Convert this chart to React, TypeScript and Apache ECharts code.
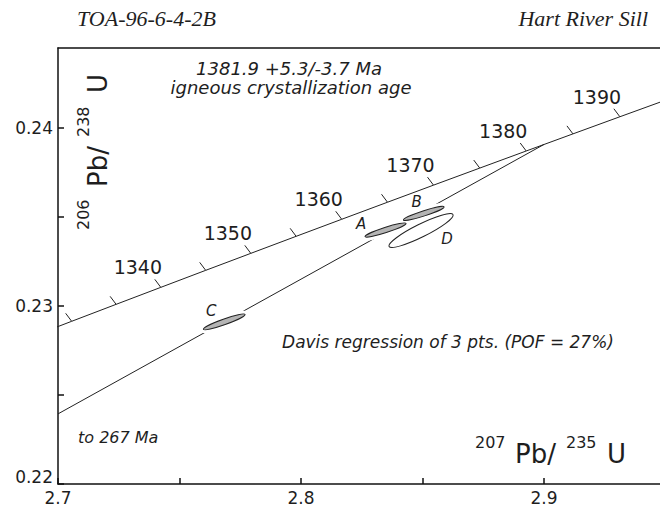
import React, { useEffect, useRef } from 'react';
import * as echarts from 'echarts';

// Axis ticks and labels
const xTickValues = [2.7, 2.75, 2.8, 2.85, 2.9];
const xLabelValues = [2.7, 2.8, 2.9];
const yTickValues = [0.22, 0.225, 0.23, 0.235, 0.24];
const yLabelValues = [0.22, 0.23, 0.24];

// Concordia curve points (age in Ma, 207Pb/235U, 206Pb/238U)
const concordiaAges = [1325, 1330, 1335, 1340, 1345, 1350, 1355, 1360, 1365, 1370, 1375, 1380, 1385, 1390, 1395, 1400];
const concordiaX = [2.68742, 2.70562, 2.72391, 2.7423, 2.76077, 2.77933, 2.79799, 2.81674, 2.83558, 2.85451, 2.87354, 2.89266, 2.91188, 2.93119, 2.95059, 2.97009];
const concordiaY = [0.228189, 0.229142, 0.230096, 0.23105, 0.232006, 0.232961, 0.233918, 0.234876, 0.235834, 0.236793, 0.237752, 0.238713, 0.239674, 0.240636, 0.241599, 0.242562];
const tickAges = [1330, 1335, 1340, 1345, 1350, 1355, 1360, 1365, 1370, 1375, 1380, 1385, 1390];
const labelAges = [1340, 1350, 1360, 1370, 1380, 1390];

// Discordia (from left edge up to the upper intercept at 1381.9 Ma)
const discordiaX = [2.7, 2.89996];
const discordiaY = [0.22394, 0.23908];

// Error ellipses: centre, major half-axis vector (data units), minor/major ratio
const ellipseNames = ['D', 'A', 'B', 'C'];
const ellipseX = [2.84938, 2.83477, 2.85049, 2.7684];
const ellipseY = [0.234242, 0.23427, 0.235204, 0.22911];
const ellipseHalfX = [0.01317, 0.00844, 0.00837, 0.00858];
const ellipseHalfY = [0.000895, 0.000375, 0.000372, 0.00042];
const ellipseRatio = [0.18, 0.12, 0.12, 0.13];
const ellipseFilled = [0, 1, 1, 1];

// label offsets (pixels) for ellipse letters
const letterOffset: Record<string, [number, number]> = {
  D: [26, 8.5],
  A: [-24.5, -6],
  B: [-7, -11],
  C: [-13, -11],
};

const SANS = 'DejaVu Sans';
const INK = '#1e1e1e';

const near = (list: number[], v: number) => list.some((t) => Math.abs(t - v) < 1e-6);

function buildOption(): any {
  const concordiaData = concordiaX.map((x, i) => [x, concordiaY[i]]);
  const tickData = tickAges.map((age) => {
    const i = concordiaAges.indexOf(age);
    return [concordiaX[i], concordiaY[i], age];
  });
  const discordiaData = discordiaX.map((x, i) => [x, discordiaY[i]]);
  const ellipseData = ellipseX.map((x, i) => [x, ellipseY[i], ellipseHalfX[i], ellipseHalfY[i], ellipseRatio[i], ellipseFilled[i]]);

  const ellipseGeom = (api: any) => {
    const cx = api.value(0);
    const cy = api.value(1);
    const c = api.coord([cx, cy]);
    const e = api.coord([cx + api.value(2), cy + api.value(3)]);
    const dx = e[0] - c[0];
    const dy = e[1] - c[1];
    const a = Math.hypot(dx, dy);
    return { c, a, b: a * api.value(4), rot: Math.atan2(-dy, dx) };
  };

  const textStyle = (text: string, size: number, italic: boolean, align: string, family = SANS) => ({
    text,
    fill: INK,
    fontSize: size,
    fontFamily: family,
    fontStyle: italic ? 'italic' : 'normal',
    lineHeight: size,
    align,
    textAlign: align,
    verticalAlign: 'middle',
    textVerticalAlign: 'middle',
  });

  return {
    animation: false,
    backgroundColor: '#fff',
    grid: { left: 58, top: 48, right: 0, bottom: 26, containLabel: false, outerBoundsMode: 'none' },
    xAxis: [
      {
        type: 'value',
        min: 2.7,
        max: 2.9477,
        interval: 0.05,
        position: 'bottom',
        axisLine: { show: true, lineStyle: { color: '#111', width: 1.5 } },
        axisTick: { show: true, inside: true, length: 6, customValues: xTickValues, lineStyle: { color: '#111', width: 1.5 } },
        axisLabel: {
          customValues: xLabelValues,
          margin: 7,
          fontSize: 17,
          lineHeight: 14,
          fontFamily: SANS,
          color: INK,
          formatter: (v: number) => (near(xLabelValues, v) ? String(Math.round(v * 10) / 10) : ''),
        },
        splitLine: { show: false },
      },
      {
        type: 'value',
        min: 2.7,
        max: 2.9477,
        position: 'top',
        axisLine: { show: true, lineStyle: { color: '#111', width: 1.5 } },
        axisTick: { show: false },
        axisLabel: { show: false },
        splitLine: { show: false },
      },
    ],
    yAxis: {
      type: 'value',
      min: 0.22,
      max: 0.2445,
      interval: 0.005,
      axisLine: { show: true, lineStyle: { color: '#111', width: 1.5 } },
      axisTick: { show: true, inside: true, length: 6, customValues: yTickValues, lineStyle: { color: '#111', width: 1.5 } },
      axisLabel: {
        customValues: yLabelValues,
        margin: 5,
        fontSize: 17,
        lineHeight: 14,
        fontFamily: SANS,
        color: INK,
        formatter: (v: number) => {
          if (!near(yLabelValues, v)) return '';
          const s = v.toFixed(2);
          return Math.abs(v - 0.22) < 1e-6 ? '{low|' + s + '}' : s;
        },
        rich: {
          low: { fontSize: 17, lineHeight: 14, fontFamily: SANS, color: INK, padding: [0, 0, 14, 0] },
        },
      },
      splitLine: { show: false },
    },
    series: [
      {
        name: 'Concordia',
        type: 'line',
        z: 2,
        data: concordiaData,
        symbol: 'none',
        clip: true,
        silent: true,
        lineStyle: { color: '#222', width: 1 },
      },
      {
        name: 'Concordia ages',
        type: 'custom',
        coordinateSystem: 'cartesian2d',
        z: 2,
        clip: false,
        silent: true,
        data: tickData,
        renderItem: (params: any, api: any) => {
          const p = api.coord([api.value(0), api.value(1)]);
          const age = api.value(2);
          const children: any[] = [
            { type: 'line', shape: { x1: p[0], y1: p[1], x2: p[0] - 6, y2: p[1] - 8 }, style: { stroke: '#222', lineWidth: 1 } },
          ];
          if (labelAges.includes(age)) {
            children.push({ type: 'text', x: p[0] - 23, y: p[1] - 20, style: textStyle(String(age), 19, false, 'center') });
          }
          return { type: 'group', children };
        },
      },
      {
        name: 'Discordia',
        type: 'line',
        z: 2,
        data: discordiaData,
        symbol: 'none',
        silent: true,
        lineStyle: { color: '#222', width: 1 },
      },
      {
        name: 'Ellipse halo',
        type: 'custom',
        coordinateSystem: 'cartesian2d',
        z: 5,
        clip: false,
        silent: true,
        data: ellipseData,
        renderItem: (params: any, api: any) => {
          const g = ellipseGeom(api);
          return {
            type: 'ellipse',
            x: g.c[0],
            y: g.c[1],
            rotation: g.rot,
            shape: { cx: 0, cy: 0, rx: g.a, ry: g.b },
            style: { fill: '#fff', stroke: '#fff', lineWidth: 7 },
          };
        },
      },
      {
        name: 'Analyses',
        type: 'custom',
        coordinateSystem: 'cartesian2d',
        z: 6,
        clip: false,
        silent: true,
        data: ellipseData,
        renderItem: (params: any, api: any) => {
          const g = ellipseGeom(api);
          const name = ellipseNames[params.dataIndex];
          const off = letterOffset[name];
          return {
            type: 'group',
            children: [
              {
                type: 'ellipse',
                x: g.c[0],
                y: g.c[1],
                rotation: g.rot,
                shape: { cx: 0, cy: 0, rx: g.a, ry: g.b },
                style: { fill: api.value(5) ? '#b4b4b4' : '#fff', stroke: '#222', lineWidth: 1 },
              },
              { type: 'text', x: g.c[0] + off[0], y: g.c[1] + off[1], style: textStyle(name, 15, true, 'center') },
            ],
          };
        },
      },
    ],
    graphic: [
      { type: 'text', x: 77, y: 18, style: textStyle('TOA-96-6-4-2B', 22, true, 'left', 'Liberation Serif') },
      { type: 'text', x: 648, y: 18, style: textStyle('Hart River Sill', 22, true, 'right', 'Liberation Serif') },
      { type: 'text', x: 289, y: 68, style: textStyle('1381.9 +5.3/-3.7 Ma', 18, true, 'center') },
      { type: 'text', x: 291, y: 87, style: textStyle('igneous crystallization age', 18, true, 'center') },
      { type: 'text', x: 448, y: 342, style: textStyle('Davis regression of 3 pts. (POF = 27%)', 17, true, 'center') },
      { type: 'text', x: 78, y: 437, style: textStyle('to 267 Ma', 16, true, 'left') },
      // x-axis title
      { type: 'text', x: 475, y: 442, style: textStyle('207', 16, false, 'left') },
      { type: 'text', x: 515, y: 454, style: textStyle('Pb/', 26, false, 'left') },
      { type: 'text', x: 566, y: 442, style: textStyle('235', 16, false, 'left') },
      { type: 'text', x: 607, y: 454, style: textStyle('U', 26, false, 'left') },
      // y-axis title (rotated)
      {
        type: 'group',
        x: 97.5,
        y: 230,
        rotation: Math.PI / 2,
        children: [
          { type: 'text', x: 0, y: -14, style: textStyle('206', 16, false, 'left') },
          { type: 'text', x: 43, y: 0, style: textStyle('Pb/', 26, false, 'left') },
          { type: 'text', x: 93, y: -14, style: textStyle('238', 16, false, 'left') },
          { type: 'text', x: 137, y: 0, style: textStyle('U', 26, false, 'left') },
        ],
      },
    ],
  };
}

export default function App() {
  const ref = useRef<HTMLDivElement>(null);
  useEffect(() => {
    if (!ref.current) return;
    const chart = echarts.init(ref.current, null, { renderer: 'svg' });
    chart.setOption(buildOption());
    return () => chart.dispose();
  }, []);
  return (
    <div
      ref={ref}
      style={{ position: 'fixed', left: 0, top: 0, width: 660, height: 510, background: '#fff' }}
    />
  );
}
